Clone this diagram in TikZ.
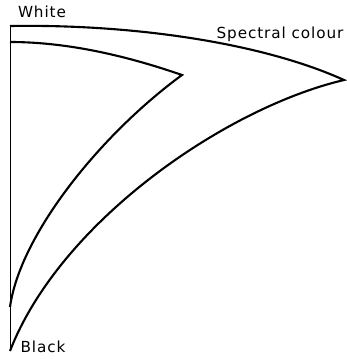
\documentclass[tikz,border=0pt]{standalone}
\usepackage{fontspec}
\newfontfamily\labelfont[LetterSpace=6]{DejaVu Sans}
\usetikzlibrary{positioning}

\begin{document}
\begin{tikzpicture}[x=0.03cm, y=-0.03cm,
  curve/.style={line width=1.8pt, line join=miter},
  axis/.style={line width=0.6pt},
  label/.style={font=\labelfont\fontsize{13}{15}\selectfont, inner sep=0pt}
]
\useasboundingbox (0,0) rectangle (347,359);

% --------- CORNERS ----------
\coordinate (white) at (10,26);
\coordinate (black) at (10,351);
\coordinate (spectral) at (344,80);
\coordinate (innertop) at (10,42);
\coordinate (innertip) at (182,75);
\coordinate (innerbase) at (10,307);

% grey axis
\draw[axis] (white) -- (black);

% outer boundary
\draw[curve] (white) .. controls (130,24) and (260,42) .. (spectral)
  .. controls (225,108) and (60,222) .. (black);

% inner boundary
\draw[curve] (innertop) .. controls (70,42) and (130,57) .. (innertip)
  .. controls (100,135) and (20,235) .. (innerbase);

% labels
\node[label] (whiteLabel) at (42,12) {White};
\node[label] (spectralLabel) at (280,34) {Spectral colour};
\node[label] (blackLabel) at (43,347) {Black};
\end{tikzpicture}
\end{document}
